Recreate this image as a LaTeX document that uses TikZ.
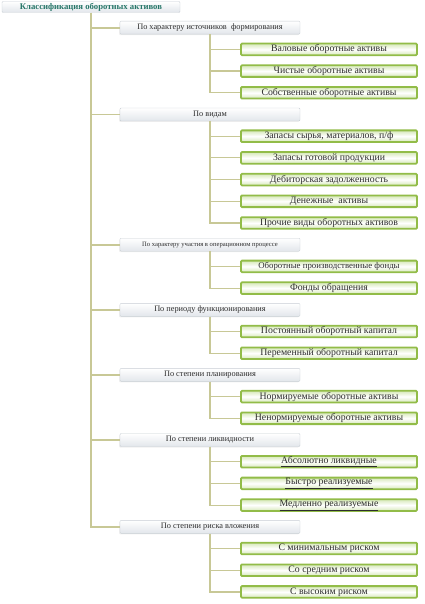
\documentclass[tikz,border=0pt]{standalone}
\usepackage{fontspec}
\setmainfont{Liberation Serif}
\usepackage{xcolor}
\usepackage{tikz}
\usetikzlibrary{positioning, shadows}
\definecolor{leafgreen}{RGB}{146,188,72}
\definecolor{leaffill}{RGB}{214,232,184}
\definecolor{catline}{RGB}{200,206,212}
\definecolor{catfill}{RGB}{226,230,235}
\definecolor{trunkolive}{RGB}{200,200,150}
\definecolor{rootteal}{RGB}{38,118,104}
\definecolor{textgray}{RGB}{45,45,45}

\begin{document}
\begin{tikzpicture}[node distance=8.3pt,
  rootbox/.style={draw=catline, rounded corners=1pt, minimum width=178pt, minimum height=11pt, inner sep=0pt, top color=white, bottom color=catfill, font=\fontsize{8.7}{8.7}\selectfont\bfseries, text=rootteal},
  cat/.style={draw=catline, rounded corners=1pt, minimum width=180pt, minimum height=13pt, inner sep=0pt, top color=white, bottom color=catfill, font=\fontsize{8.3}{8.3}\selectfont, text=textgray, drop shadow={opacity=0.12, shadow xshift=-1pt, shadow yshift=-1pt}},
  leaf/.style={draw=leafgreen, line width=1.8pt, rounded corners=1pt, minimum width=176pt, minimum height=11.6pt, inner sep=0pt, top color=leaffill, bottom color=leaffill, middle color=white, font=\fontsize{9.8}{9.8}\selectfont, text=textgray},
  trunk/.style={draw=trunkolive, line width=1.8pt},
  twig/.style={draw=trunkolive, line width=1.2pt}]
  \useasboundingbox (0,0) rectangle (424pt,-604pt);
  \node[rootbox] (cls) at (91pt,-7pt) {Классификация оборотных активов};
  \node[cat, below=of cls, xshift=119pt] (src) {По характеру источников\ \ формирования};
  \node[leaf, below=of src, xshift=119pt] (gross) {Валовые оборотные активы};
  \node[leaf, below=of gross] (net) {Чистые оборотные активы};
  \node[leaf, below=of net] (own) {Собственные оборотные активы};
  \node[cat, below=of own, xshift=-119pt] (kind) {По видам};
  \node[leaf, below=of kind, xshift=119pt] (raw) {Запасы сырья, материалов, п/ф};
  \node[leaf, below=of raw] (goods) {Запасы готовой продукции};
  \node[leaf, below=of goods] (recv) {Дебиторская задолженность};
  \node[leaf, below=of recv] (cash) {Денежные\ \ активы};
  \node[leaf, below=of cash] (other) {Прочие виды оборотных активов};
  \node[cat, below=of other, xshift=-119pt, font=\fontsize{6.6}{6.6}\selectfont] (oper) {По характеру участия в операционном процессе};
  \node[leaf, below=of oper, xshift=119pt, font=\fontsize{8.8}{8.8}\selectfont] (prodf) {Оборотные производственные фонды};
  \node[leaf, below=of prodf] (circf) {Фонды обращения};
  \node[cat, below=of circf, xshift=-119pt] (period) {По периоду функционирования};
  \node[leaf, below=of period, xshift=119pt] (perm) {Постоянный оборотный капитал};
  \node[leaf, below=of perm] (varc) {Переменный оборотный капитал};
  \node[cat, below=of varc, xshift=-119pt] (plan) {По степени планирования};
  \node[leaf, below=of plan, xshift=119pt] (norm) {Нормируемые оборотные активы};
  \node[leaf, below=of norm] (nonnorm) {Ненормируемые оборотные активы};
  \node[cat, below=of nonnorm, xshift=-119pt] (liq) {По степени ликвидности};
  \node[leaf, below=of liq, xshift=119pt] (absl) {\underline{Абсолютно ликвидные}};
  \node[leaf, below=of absl] (fast) {\underline{Быстро реализуемые}};
  \node[leaf, below=of fast] (slow) {\underline{Медленно реализуемые}};
  \node[cat, below=of slow, xshift=-119pt] (risk) {По степени риска вложения};
  \node[leaf, below=of risk, xshift=119pt] (minr) {С минимальным риском};
  \node[leaf, below=of minr] (midr) {Со средним риском};
  \node[leaf, below=of midr] (highr) {С высоким риском};
  % main trunk
  \draw[trunk] (cls.south) |- (src.west) (cls.south) |- (kind.west) (cls.south) |- (oper.west)
    (cls.south) |- (period.west) (cls.south) |- (plan.west) (cls.south) |- (liq.west) (cls.south) |- (risk.west);
  % branches
  \draw[twig] (src.south) |- (gross.west) (src.south) |- (net.west) (src.south) |- (own.west);
  \draw[twig] (kind.south) |- (raw.west) (kind.south) |- (goods.west) (kind.south) |- (recv.west)
    (kind.south) |- (cash.west) (kind.south) |- (other.west);
  \draw[twig] (oper.south) |- (prodf.west) (oper.south) |- (circf.west);
  \draw[twig] (period.south) |- (perm.west) (period.south) |- (varc.west);
  \draw[twig] (plan.south) |- (norm.west) (plan.south) |- (nonnorm.west);
  \draw[twig] (liq.south) |- (absl.west) (liq.south) |- (fast.west) (liq.south) |- (slow.west);
  \draw[twig] (risk.south) |- (minr.west) (risk.south) |- (midr.west) (risk.south) |- (highr.west);
\end{tikzpicture}
\end{document}
